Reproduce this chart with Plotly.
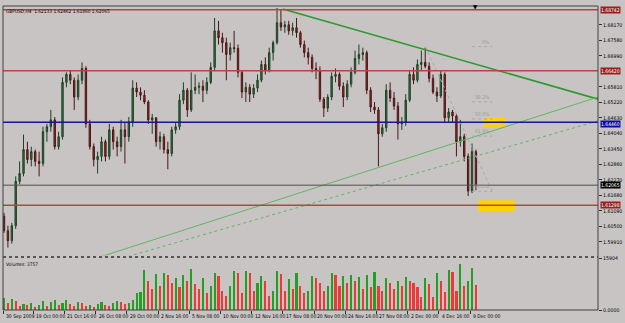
import plotly.graph_objects as go
from plotly.subplots import make_subplots

# ---------------- data ----------------
opens = [1.6089,1.6033,1.5995,1.6052,1.6221,1.6251,1.6342,1.6304,1.6334,1.6297,
         1.6289,1.6410,1.6429,1.6455,1.6353,1.6391,1.6598,1.6628,1.6606,1.6542,
         1.6606,1.6651,1.6440,1.6353,1.6304,1.6316,1.6372,1.6316,1.6417,1.6372,
         1.6353,1.6417,1.6391,1.6447,1.6576,1.6561,1.6549,1.6523,1.6455,1.6463,
         1.6372,1.6391,1.6342,1.6327,1.6417,1.6429,1.6530,1.6568,1.6493,1.6568,
         1.6579,1.6583,1.6568,1.6598,1.6655,1.6794,1.6768,1.6749,1.6704,1.6730,
         1.6727,1.6636,1.6561,1.6579,1.6553,1.6576,1.6606,1.6666,1.6644,1.6711,
         1.6749,1.6825,1.6809,1.6817,1.6794,1.6806,1.6787,1.6742,1.6711,1.6693,
         1.6651,1.6644,1.6534,1.6500,1.6542,1.6621,1.6628,1.6583,1.6542,1.6591,
         1.6636,1.6689,1.6704,1.6711,1.6568,1.6504,1.6493,1.6402,1.6425,1.6568,
         1.6538,1.6508,1.6440,1.6447,1.6530,1.6628,1.6606,1.6666,1.6674,1.6659,
         1.6613,1.6561,1.6546,1.6628,1.6463,1.6485,1.6470,1.6372,1.6391,1.6316,
         1.6184,1.6334]
highs = [1.6101,1.6052,1.6063,1.6240,1.6297,1.6399,1.6372,1.6353,1.6342,1.6334,
         1.6429,1.6440,1.6493,1.6466,1.6410,1.6617,1.6636,1.6644,1.6617,1.6628,
         1.6674,1.6659,1.6455,1.6365,1.6334,1.6391,1.6380,1.6440,1.6429,1.6391,
         1.6455,1.6447,1.6466,1.6606,1.6598,1.6579,1.6568,1.6530,1.6478,1.6466,
         1.6410,1.6402,1.6372,1.6429,1.6447,1.6553,1.6598,1.6576,1.6636,1.6628,
         1.6598,1.6606,1.6617,1.6674,1.6843,1.6832,1.6787,1.6768,1.6749,1.6794,
         1.6742,1.6644,1.6598,1.6591,1.6591,1.6628,1.6681,1.6693,1.6730,1.6757,
         1.6881,1.6874,1.6832,1.6832,1.6825,1.6843,1.6794,1.6757,1.6730,1.6704,
         1.6674,1.6659,1.6542,1.6553,1.6636,1.6651,1.6636,1.6598,1.6606,1.6655,
         1.6719,1.6742,1.6730,1.6719,1.6579,1.6523,1.6504,1.6440,1.6591,1.6598,
         1.6561,1.6523,1.6466,1.6553,1.6644,1.6655,1.6685,1.6719,1.6730,1.6674,
         1.6628,1.6579,1.6644,1.6636,1.6500,1.6493,1.6478,1.6455,1.6402,1.6327,
         1.6365,1.6342]
lows = [1.6025,1.5969,1.5984,1.6040,1.6210,1.6240,1.6289,1.6278,1.6278,1.6240,
        1.6278,1.6372,1.6410,1.6342,1.6342,1.6380,1.6579,1.6591,1.6493,1.6530,
        1.6591,1.6425,1.6342,1.6278,1.6251,1.6297,1.6297,1.6304,1.6342,1.6316,
        1.6334,1.6289,1.6372,1.6429,1.6542,1.6530,1.6515,1.6440,1.6402,1.6353,
        1.6342,1.6327,1.6267,1.6316,1.6402,1.6417,1.6515,1.6466,1.6485,1.6553,
        1.6553,1.6523,1.6553,1.6591,1.6644,1.6742,1.6711,1.6606,1.6681,1.6711,
        1.6617,1.6538,1.6523,1.6523,1.6538,1.6561,1.6598,1.6628,1.6636,1.6681,
        1.6742,1.6794,1.6787,1.6779,1.6776,1.6768,1.6730,1.6693,1.6666,1.6636,
        1.6610,1.6523,1.6466,1.6485,1.6530,1.6598,1.6568,1.6504,1.6530,1.6579,
        1.6628,1.6666,1.6681,1.6553,1.6485,1.6478,1.6278,1.6391,1.6410,1.6523,
        1.6493,1.6380,1.6417,1.6432,1.6523,1.6591,1.6598,1.6644,1.6651,1.6598,
        1.6553,1.6523,1.6538,1.6447,1.6447,1.6447,1.6316,1.6353,1.6297,1.6165,
        1.6176,1.6187]
closes = [1.6033,1.5995,1.6052,1.6221,1.6251,1.6342,1.6304,1.6334,1.6297,1.6289,
          1.6410,1.6429,1.6455,1.6353,1.6391,1.6598,1.6628,1.6606,1.6542,1.6606,
          1.6651,1.6440,1.6353,1.6304,1.6316,1.6372,1.6316,1.6417,1.6372,1.6353,
          1.6417,1.6391,1.6447,1.6576,1.6561,1.6549,1.6523,1.6455,1.6463,1.6372,
          1.6391,1.6342,1.6327,1.6417,1.6429,1.6530,1.6568,1.6493,1.6568,1.6579,
          1.6583,1.6568,1.6598,1.6655,1.6794,1.6768,1.6749,1.6704,1.6730,1.6727,
          1.6636,1.6561,1.6579,1.6553,1.6576,1.6606,1.6666,1.6644,1.6711,1.6749,
          1.6825,1.6809,1.6817,1.6794,1.6806,1.6787,1.6742,1.6711,1.6693,1.6651,
          1.6644,1.6534,1.6500,1.6542,1.6621,1.6628,1.6583,1.6542,1.6591,1.6636,
          1.6689,1.6704,1.6711,1.6568,1.6504,1.6493,1.6402,1.6425,1.6568,1.6538,
          1.6508,1.6440,1.6447,1.6530,1.6628,1.6606,1.6666,1.6674,1.6659,1.6613,
          1.6561,1.6546,1.6628,1.6463,1.6485,1.6470,1.6372,1.6391,1.6316,1.6184,
          1.6334,1.6206]
volumes = [3900,2400,3600,3000,1500,2100,1800,2400,1200,1800,
           3000,1500,2700,3300,1800,2400,3300,2100,1500,2700,
           2400,1500,1800,1200,2100,2700,1800,1500,2400,3000,
           2700,2100,2400,3300,5400,
           5700,12400,9000,6600,11200,7500,11500,10900,8500,10000,
           7200,10900,9000,12700,8200,6600,10000,5400,7500,11500,
           10600,6000,4500,7500,12100,11500,5400,12100,11500,6000,
           8500,10600,9000,4500,6000,12100,11200,6000,9700,6600,
           11500,7500,5400,6000,10600,10000,8500,6000,7500,11500,
           10900,7500,10600,8500,10900,9000,10300,6600,10900,7200,
           11800,7500,6000,10000,8500,6600,9000,7500,10300,9000,
           8500,7200,
           4200,10000,8200,4200,11500,9000,5700,12400,11800,6000,
           14500,7500,9000,13000,7900]
bar_index = list(range(len(opens)))

time_tick_pos = [-0.2, 7.5, 15.5, 23.5, 31.5, 39.5, 47.5, 55.5, 63.5, 71.5,
                 79.5, 87.5, 95.5, 103.5, 111.5, 119.5]
time_tick_text = ["30 Sep 2009", "19 Oct 00:00", "21 Oct 16:00", "26 Oct 08:00",
                  "29 Oct 00:00", "2 Nov 16:00", "5 Nov 08:00", "10 Nov 00:00",
                  "12 Nov 16:00", "17 Nov 08:00", "20 Nov 00:00", "24 Nov 16:00",
                  "27 Nov 08:00", "2 Dec 00:00", "4 Dec 16:00", "9 Dec 00:00"]

price_ticks = [1.5991, 1.6050, 1.6109, 1.6168, 1.6227, 1.6286, 1.6345, 1.6404,
               1.6463, 1.6522, 1.6581, 1.6699, 1.6758, 1.6817]
price_tick_text = ["1.59910", "1.60500", "1.61090", "1.61680", "1.62270", "1.62860",
                   "1.63450", "1.64040", "1.64630", "1.65220", "1.65810", "1.66990",
                   "1.67580", "1.68170"]

level_prices = [1.68742, 1.66420, 1.64460, 1.61298]
level_colors = ["#B54545", "#B54545", "#1414A0", "#B54545"]
level_box_colors = ["#9A1E1E", "#9A1E1E", "#0A0A9A", "#9A1E1E"]
last_price = 1.62065

# trend lines: (bar index, price) anchors
trend_thick = ([71.5, 152.3], [1.6877, 1.6534])
trend_thin = ([25.0, 152.3], [1.5935, 1.6542])
trend_dotted = ([31.8, 152.3], [1.5935, 1.6451])

# fibonacci retracement anchors
fib_high = (108.0, 1.6734)
fib_low = (120.0, 1.6183)
fib_levels = [0.0, 0.382, 0.5, 0.618, 1.0]
fib_labels = ["0%", "38.2%", "50.0%", "61.8%", "100.0%"]
fib_line_x = [120.0, 125.2]

# yellow rectangles (bar index range, price range)
rects = [((122.8, 128.5), (1.6429, 1.6466)), ((121.5, 131.0), (1.6108, 1.6149))]

price_range = [1.59386, 1.68886]
vol_range = [0, 15904]
x_range = [-0.26, 152.3]

BG = "#C8C4C4"
FONT = "Liberation Sans Narrow, DejaVu Sans Condensed, Liberation Sans"

fig = make_subplots(rows=2, cols=1, shared_xaxes=True)

fig.add_trace(go.Candlestick(
    x=bar_index, open=opens, high=highs, low=lows, close=closes,
    increasing=dict(line=dict(color="#1F3F26", width=1), fillcolor="#2F7D3F"),
    decreasing=dict(line=dict(color="#4A1616", width=1), fillcolor="#A32A2A"),
    whiskerwidth=0, showlegend=False, hoverinfo="skip"), row=1, col=1)

vol_colors = ["#22A022"] + ["#22A022" if volumes[i] > volumes[i - 1] else "#F03838"
                            for i in range(1, len(volumes))]
fig.add_trace(go.Bar(x=bar_index, y=volumes, marker_color=vol_colors,
                     marker_line_width=0, width=0.55, showlegend=False,
                     hoverinfo="skip"), row=2, col=1)

for (xs, ys), col, w, dash in [(trend_thick, "#2A9A2A", 1.6, "solid"),
                               (trend_thin, "#5DB85D", 1.0, "solid"),
                               (trend_dotted, "#5DB85D", 1.0, "dot")]:
    fig.add_trace(go.Scatter(x=xs, y=ys, mode="lines",
                             line=dict(color=col, width=w, dash=dash),
                             showlegend=False, hoverinfo="skip"), row=1, col=1)

# fib
fib_range = fib_high[1] - fib_low[1]
fib_prices = [fib_high[1] - lv * fib_range for lv in fib_levels]
fig.add_trace(go.Scatter(x=[fib_high[0], fib_line_x[1]], y=[fib_high[1], fib_low[1]],
                         mode="lines", line=dict(color="#A8A8A8", width=1, dash="dot"),
                         showlegend=False, hoverinfo="skip"), row=1, col=1)
for p in fib_prices:
    fig.add_trace(go.Scatter(x=fib_line_x, y=[p, p], mode="lines",
                             line=dict(color="#A8A8A8", width=1, dash="dot"),
                             showlegend=False, hoverinfo="skip"), row=1, col=1)

shapes = []
for (x0, x1), (y0, y1) in rects:
    shapes.append(dict(type="rect", xref="x", yref="y", x0=x0, x1=x1, y0=y0, y1=y1,
                       fillcolor="#FFD200", line=dict(width=0), layer="below"))
for p, c in zip(level_prices, level_colors):
    shapes.append(dict(type="line", xref="paper", yref="y", x0=0, x1=1, y0=p, y1=p,
                       line=dict(color=c, width=1.6)))
shapes.append(dict(type="line", xref="paper", yref="y", x0=0, x1=1, y0=last_price,
                   y1=last_price, line=dict(color="#505050", width=1)))
# frame and pane separator
shapes.append(dict(type="rect", xref="paper", yref="paper", x0=0, x1=1, y0=0, y1=1,
                   line=dict(color="#404040", width=1)))
shapes.append(dict(type="line", xref="paper", yref="paper", x0=0, x1=1,
                   y0=0.1743, y1=0.1743, line=dict(color="#555555", width=2, dash="dot")))

annotations = []
annotations.append(dict(xref="paper", yref="paper", x=0, y=1, xanchor="left",
                        yanchor="top", xshift=1, yshift=-1, showarrow=False,
                        text="GBPUSD,H4  1.62133 1.62462 1.61860 1.62065",
                        font=dict(family=FONT, size=4.8, color="black")))
annotations.append(dict(xref="paper", yref="paper", x=0, y=0.169, xanchor="left",
                        yanchor="top", xshift=1, yshift=-1, showarrow=False,
                        text="Volumes: 3757", font=dict(family=FONT, size=4.8, color="black")))
for p, bc, ys in zip(level_prices + [last_price], level_box_colors + ["#000000"],
                     [0, 0, -1.5, 0, 0]):
    annotations.append(dict(xref="paper", yref="y", x=1, y=p, xanchor="left",
                            yanchor="middle", xshift=2, yshift=ys, showarrow=False,
                            text="%.5f" % p, bgcolor=bc, borderpad=0,
                            font=dict(family=FONT, size=5, color="white")))
for xv, t in zip(time_tick_pos, time_tick_text):
    annotations.append(dict(xref="x2", yref="paper", x=xv, y=0, xanchor="left",
                            yanchor="top", xshift=1, yshift=-1, showarrow=False,
                            text=t, font=dict(family=FONT, size=5, color="black")))
for p, t in zip(fib_prices, fib_labels):
    annotations.append(dict(xref="x", yref="y", x=fib_line_x[1], y=p, xanchor="right",
                            yanchor="bottom", showarrow=False, text=t,
                            font=dict(family=FONT, size=5, color="#9A9A9A")))
annotations.append(dict(xref="x", yref="paper", x=bar_index[-1], y=1, xanchor="center",
                        yanchor="middle", showarrow=False, text="▼",
                        font=dict(family=FONT, size=6, color="black")))

fig.update_layout(
    width=625, height=323,
    margin=dict(l=3, r=27, t=3, b=13),
    paper_bgcolor=BG, plot_bgcolor=BG,
    showlegend=False, shapes=shapes, annotations=annotations,
    font=dict(family=FONT, size=6, color="black"),
    bargap=0, boxgap=0.5,
)
fig.update_xaxes(range=x_range, showgrid=False, zeroline=False, rangeslider_visible=False)
fig.update_xaxes(showticklabels=False, ticks="", row=1, col=1)
fig.update_xaxes(tickvals=time_tick_pos, ticks="outside", ticklen=3, tickcolor="#303030",
                 showticklabels=False, row=2, col=1)
fig.update_layout(
    yaxis=dict(domain=[0.1792, 1.0], range=price_range, side="right",
               tickvals=price_ticks, ticktext=price_tick_text, ticks="outside",
               ticklen=3, tickcolor="#303030", showgrid=False, zeroline=False,
               tickfont=dict(family=FONT, size=5.2, color="black")),
    yaxis2=dict(domain=[0.0, 0.169], range=vol_range, side="right",
                tickvals=[0, 15904], ticktext=["0.0000", "15904"], ticks="outside",
                ticklen=3, tickcolor="#303030", showgrid=False, zeroline=False,
                tickfont=dict(family=FONT, size=5.2, color="black")),
)

fig.write_html("out.html")
